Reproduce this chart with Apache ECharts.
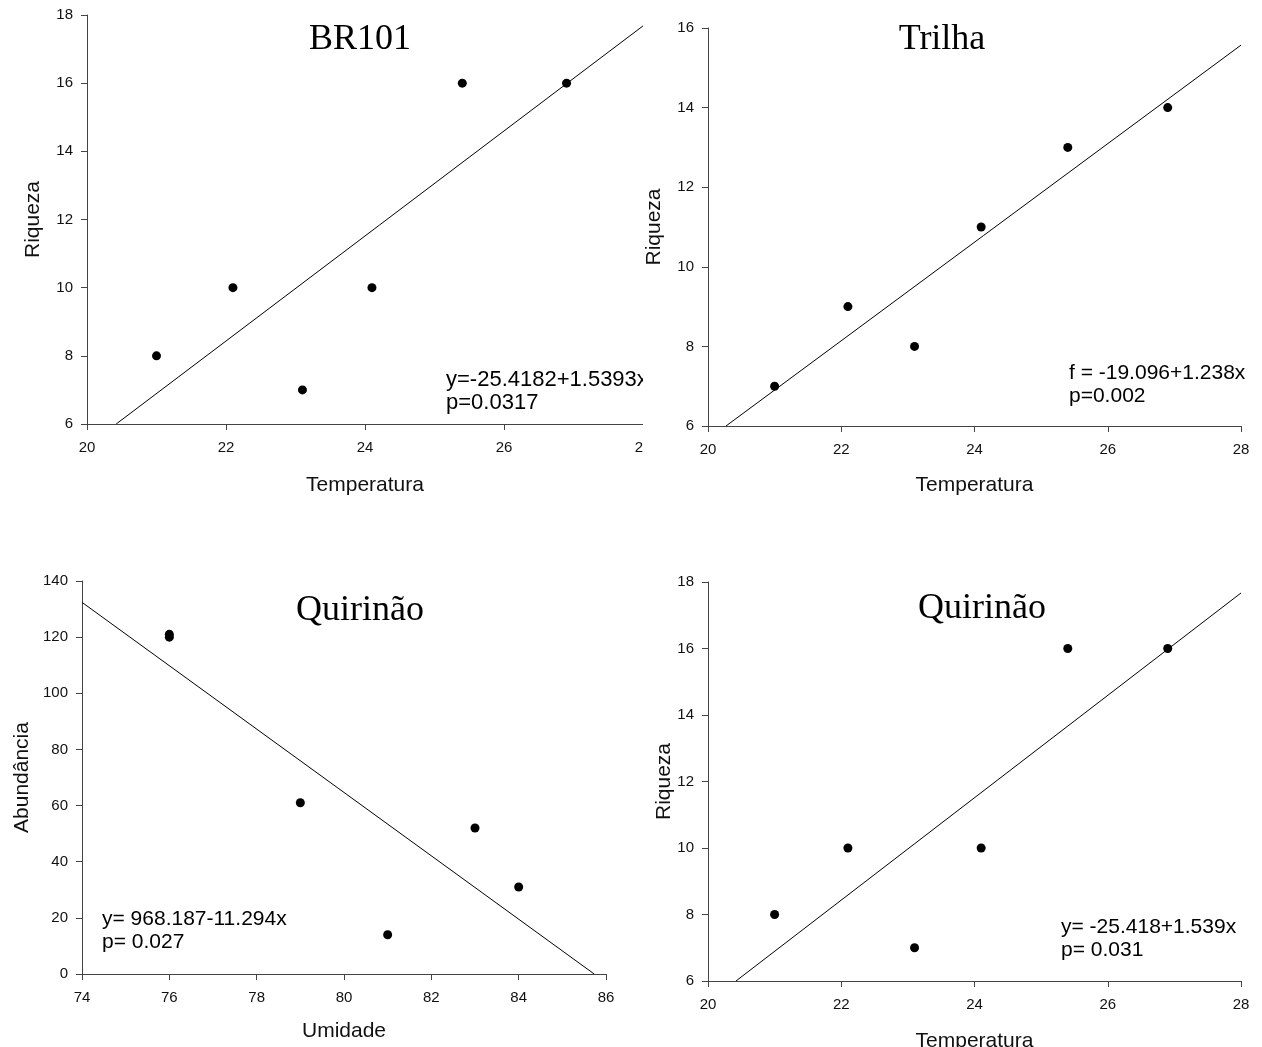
<!DOCTYPE html>
<html>
<head>
<meta charset="utf-8">
<title>Riqueza e Abundância</title>
<script src="https://cdn.jsdelivr.net/npm/echarts@6/dist/echarts.min.js"></script>
<style>
  html, body { margin: 0; padding: 0; background: #fff; }
  .wrap { position: relative; width: 1262px; height: 1047px; overflow: hidden; }
  .chart { position: absolute; }
</style>
</head>
<body>
<div class="wrap">
  <div class="chart" id="br101" style="left:0;top:0;width:643px;height:520px"></div>
  <div class="chart" id="trilha" style="left:643px;top:0;width:619px;height:520px"></div>
  <div class="chart" id="quirAbund" style="left:0;top:520px;width:643px;height:527px"></div>
  <div class="chart" id="quirRiq" style="left:643px;top:520px;width:619px;height:527px"></div>
</div>
<script>
// BR101 - riqueza x temperatura
const tempBR101 = [21, 22.1, 23.1, 24.1, 25.4, 26.9]
const riqBR101 = [8, 10, 7, 10, 16, 16]
const fitXBR101 = [20.42, 28]
const fitYBR101 = [6, 17.68]

// Trilha - riqueza x temperatura
const tempTrilha = [21, 22.1, 23.1, 24.1, 25.4, 26.9]
const riqTrilha = [7, 9, 8, 11, 13, 14]
const fitXTrilha = [20.27, 28]
const fitYTrilha = [6, 15.57]

// Quirinão - abundância x umidade
const umidQuir = [76, 76, 79, 81, 83, 84]
const abundQuir = [121, 120, 61, 14, 52, 31]
const fitXQuirAb = [74, 85.73]
const fitYQuirAb = [132.4, 0]

// Quirinão - riqueza x temperatura
const tempQuir = [21, 22.1, 23.1, 24.1, 25.4, 26.9]
const riqQuir = [8, 10, 7, 10, 16, 16]
const fitXQuirRq = [20.42, 28]
const fitYQuirRq = [6, 17.67]

const SANS = '"Liberation Sans", Arial, sans-serif'
const SERIF = '"Liberation Serif", "Times New Roman", serif'
const AXIS_COLOR = '#444'

function zip (xs, ys) {
  return xs.map(function (x, i) { return [x, ys[i]] })
}

function axisBase (min, max, interval) {
  return {
    type: 'value',
    min: min,
    max: max,
    interval: interval,
    nameLocation: 'middle',
    nameMoveOverlap: false,
    axisLine: { show: true, onZero: false, lineStyle: { color: AXIS_COLOR, width: 1 } },
    axisTick: { show: true, inside: false, length: 6, lineStyle: { color: AXIS_COLOR } },
    splitLine: { show: false },
    nameTextStyle: { fontFamily: SANS, fontSize: 21, color: '#111' }
  }
}

function eqText (x, y, text, size) {
  return {
    type: 'text',
    x: x,
    y: y,
    style: {
      text: text,
      fontFamily: SANS,
      fontSize: size,
      fill: '#000',
      textVerticalAlign: 'middle'
    }
  }
}

function makePanel (id, cfg) {
  let xAxis = axisBase(cfg.xMin, cfg.xMax, cfg.xStep)
  xAxis.name = cfg.xName
  xAxis.nameGap = cfg.xNameGap
  xAxis.axisLabel = { fontFamily: SANS, fontSize: 15, color: '#111', margin: 16 }

  let yAxis = axisBase(cfg.yMin, cfg.yMax, cfg.yStep)
  yAxis.name = cfg.yName
  yAxis.nameGap = cfg.yNameGap
  yAxis.axisLabel = { fontFamily: SANS, fontSize: 15, color: '#111', margin: 14 }

  let grid = cfg.grid
  grid.containLabel = false
  grid.outerBoundsMode = 'none'

  let eqSize = cfg.eq.size || 21
  var option = {
    animation: false,
    grid: grid,
    xAxis: xAxis,
    yAxis: yAxis,
    graphic: [
      {
        type: 'text',
        x: cfg.title.x,
        y: cfg.title.y,
        style: {
          text: cfg.title.text,
          fontFamily: SERIF,
          fontSize: 36,
          fill: '#000',
          textAlign: 'center',
          textVerticalAlign: 'middle'
        }
      },
      eqText(cfg.eq.x, cfg.eq.y, cfg.eq.lines[0], eqSize),
      eqText(cfg.eq.x, cfg.eq.y + cfg.eq.gap, cfg.eq.lines[1], eqSize)
    ],
    series: [
      {
        type: 'line',
        data: zip(cfg.fitX, cfg.fitY),
        showSymbol: false,
        symbol: 'none',
        lineStyle: { color: '#000', width: 1 },
        silent: true
      },
      {
        type: 'scatter',
        data: zip(cfg.xs, cfg.ys),
        symbol: 'circle',
        symbolSize: 9,
        itemStyle: { color: '#000', opacity: 1 }
      }
    ]
  }

  let chart = echarts.init(document.getElementById(id))
  chart.setOption(option)
  return chart
}

makePanel('br101', {
  grid: { left: 87, top: 15, width: 556, height: 409 },
  xMin: 20, xMax: 28, xStep: 2, xName: 'Temperatura', xNameGap: 51,
  yMin: 6, yMax: 18, yStep: 2, yName: 'Riqueza', yNameGap: 43,
  xs: tempBR101, ys: riqBR101, fitX: fitXBR101, fitY: fitYBR101,
  title: { text: 'BR101', x: 360, y: 40 },
  eq: { x: 446, y: 380, gap: 23, size: 22, lines: ['y=-25.4182+1.5393x', 'p=0.0317'] }
})

makePanel('trilha', {
  grid: { left: 65, top: 28, width: 533, height: 398 },
  xMin: 20, xMax: 28, xStep: 2, xName: 'Temperatura', xNameGap: 49,
  yMin: 6, yMax: 16, yStep: 2, yName: 'Riqueza', yNameGap: 43,
  xs: tempTrilha, ys: riqTrilha, fitX: fitXTrilha, fitY: fitYTrilha,
  title: { text: 'Trilha', x: 299, y: 40 },
  eq: { x: 426, y: 373, gap: 23, lines: ['f = -19.096+1.238x', 'p=0.002'] }
})

makePanel('quirAbund', {
  grid: { left: 82, top: 61, width: 524, height: 393 },
  xMin: 74, xMax: 86, xStep: 2, xName: 'Umidade', xNameGap: 47,
  yMin: 0, yMax: 140, yStep: 20, yName: 'Abundância', yNameGap: 49,
  xs: umidQuir, ys: abundQuir, fitX: fitXQuirAb, fitY: fitYQuirAb,
  title: { text: 'Quirinão', x: 360, y: 91 },
  eq: { x: 102, y: 399, gap: 23, lines: ['y= 968.187-11.294x', 'p= 0.027'] }
})

makePanel('quirRiq', {
  grid: { left: 65, top: 62, width: 533, height: 399 },
  xMin: 20, xMax: 28, xStep: 2, xName: 'Temperatura', xNameGap: 50,
  yMin: 6, yMax: 18, yStep: 2, yName: 'Riqueza', yNameGap: 33,
  xs: tempQuir, ys: riqQuir, fitX: fitXQuirRq, fitY: fitYQuirRq,
  title: { text: 'Quirinão', x: 339, y: 89 },
  eq: { x: 418, y: 407, gap: 23, lines: ['y= -25.418+1.539x', 'p= 0.031'] }
})
</script>
</body>
</html>
